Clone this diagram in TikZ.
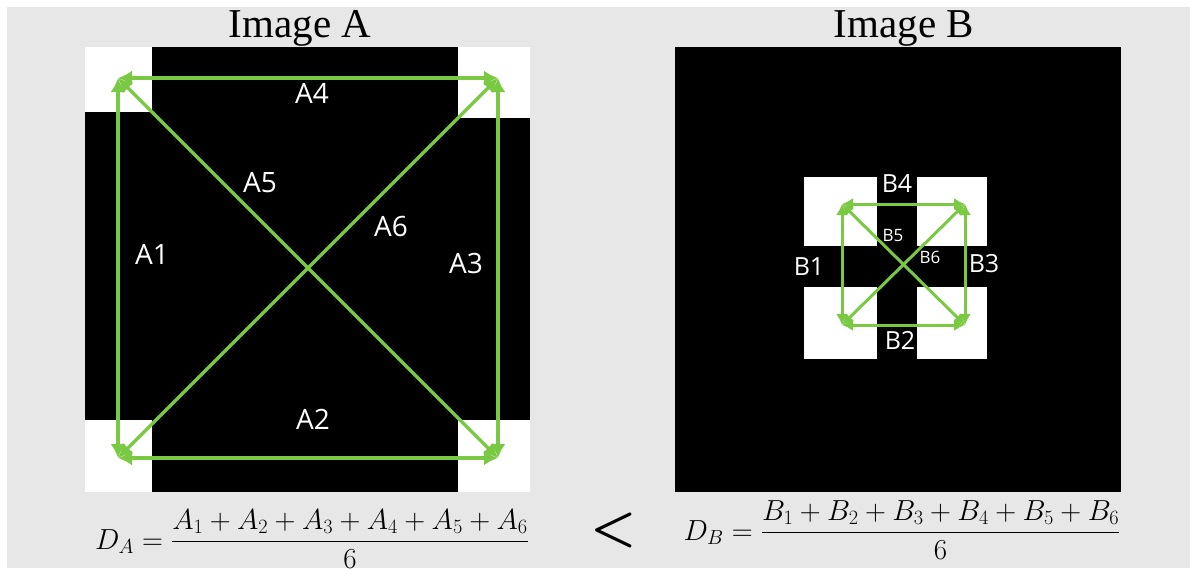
\documentclass[tikz,border=0pt]{standalone}
\usepackage{fix-cm}
\usepackage{amsmath}
\usepackage{fontspec}
\setmainfont{Liberation Serif}
\setsansfont{Open Sans}
\usetikzlibrary{arrows.meta}
\definecolor{lgreen}{RGB}{122,201,67}
\definecolor{bggray}{RGB}{231,231,231}

\begin{document}
\begin{tikzpicture}[x=1pt, y=-1pt,
    lbl/.style={text=white, inner sep=0pt, font=\sffamily\fontsize{28}{30}\selectfont},
    lblb/.style={lbl, font=\sffamily\fontsize{25}{27}\selectfont},
    lbls/.style={lbl, font=\sffamily\fontsize{17}{19}\selectfont},
    arr/.style={draw=lgreen, line width=3.5pt, {Latex[length=14pt,width=15pt]}-{Latex[length=14pt,width=15pt]}},
    arrb/.style={draw=lgreen, line width=3pt, {Latex[length=11pt,width=12pt]}-{Latex[length=11pt,width=12pt]}},
    title/.style={inner sep=0pt, anchor=base, font=\fontsize{41}{48}\selectfont},
    frm/.style={inner sep=0pt, anchor=base, font=\fontsize{29}{35}\selectfont}]
    \useasboundingbox (0,0) rectangle (1190,568);
    \fill[white] (0,0) rectangle (1190,568);
    \fill[bggray] (7,7) rectangle (1190,568);

    % Image A
    \fill[white] (85,47) rectangle (530,492);
    \fill[black] (152,47) rectangle (458,492);
    \fill[black] (85,112) rectangle (152,420);
    \fill[black] (458,118) rectangle (530,420);
    \node[title] (titleA) at (300,37) {Image A};
    \coordinate (atl) at (118,78);
    \coordinate (atr) at (498,78);
    \coordinate (abl) at (118,458);
    \coordinate (abr) at (498,458);
    \draw[arr] (atl) -- (abl);
    \draw[arr] (abl) -- (abr);
    \draw[arr] (abr) -- (atr);
    \draw[arr] (atr) -- (atl);
    \draw[arr] (atl) -- (abr);
    \draw[arr] (abl) -- (atr);
    \node[lbl] (A1) at (152,254) {A1};
    \node[lbl] (A2) at (313,419) {A2};
    \node[lbl] (A3) at (466,263) {A3};
    \node[lbl] (A4) at (312,93) {A4};
    \node[lbl] (A5) at (260,183) {A5};
    \node[lbl] (A6) at (391,226) {A6};

    % Image B
    \fill[black] (675,47) rectangle (1121,492);
    \fill[white] (804,177) rectangle (877,246);
    \fill[white] (917,177) rectangle (987,246);
    \fill[white] (804,287) rectangle (877,359);
    \fill[white] (917,287) rectangle (987,359);
    \node[title] (titleB) at (904,37) {Image B};
    \coordinate (btl) at (842,204);
    \coordinate (btr) at (965,204);
    \coordinate (bbl) at (842,325);
    \coordinate (bbr) at (965,325);
    \draw[arrb] (btl) -- (bbl);
    \draw[arrb] (bbl) -- (bbr);
    \draw[arrb] (bbr) -- (btr);
    \draw[arrb] (btr) -- (btl);
    \draw[arrb] (btl) -- (bbr);
    \draw[arrb] (bbl) -- (btr);
    \node[lblb] (B1) at (809,267) {B1};
    \node[lblb] (B2) at (900,340) {B2};
    \node[lblb] (B3) at (984,264) {B3};
    \node[lblb] (B4) at (897,184) {B4};
    \node[lbls] (B5) at (893,236) {B5};
    \node[lbls] (B6) at (930,257) {B6};

    % formulas
    \node[frm] (DA) at (312,549) {$\displaystyle D_A=\frac{A_1+A_2+A_3+A_4+A_5+A_6}{6}$};
    \node[inner sep=0pt, font=\fontsize{52}{60}\selectfont] (lt) at (614,530) {$\boldsymbol{<}$};
    \node[frm] (DB) at (902,540) {$\displaystyle D_B=\frac{B_1+B_2+B_3+B_4+B_5+B_6}{6}$};
\end{tikzpicture}
\end{document}
